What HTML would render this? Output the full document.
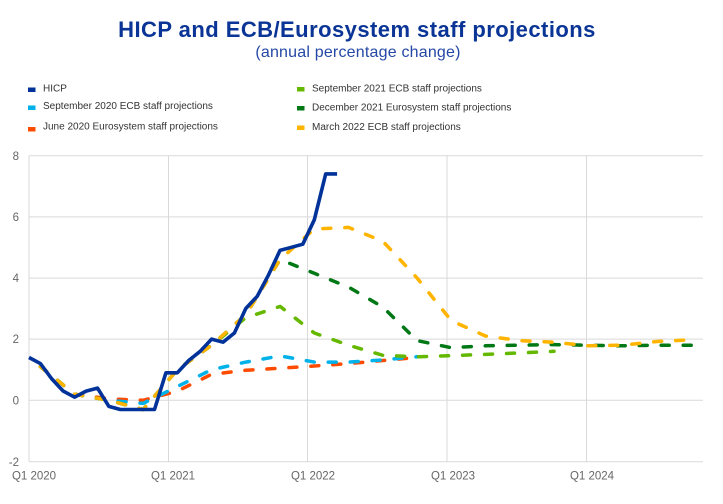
<!DOCTYPE html>
<html>
<head>
<meta charset="utf-8">
<style>
html,body{margin:0;padding:0;background:#fff;}
svg{display:block;}
text{font-family:"Liberation Sans",Arial,sans-serif;}
</style>
</head>
<body>
<svg width="723" height="504" viewBox="0 0 723 504" xmlns="http://www.w3.org/2000/svg">
<rect x="0" y="0" width="723" height="504" fill="#fff"/>
<!-- Title -->
<text x="357" y="37" text-anchor="middle" font-size="22" font-weight="bold" fill="#0a3596" letter-spacing="0.45">HICP and ECB/Eurosystem staff projections</text>
<text x="358" y="57" text-anchor="middle" font-size="16" fill="#2448a5" letter-spacing="0.2">(annual percentage change)</text>

<!-- Legend -->
<g font-size="10" fill="#333">
  <rect x="28" y="87.5" width="7.5" height="4.5" fill="#003299"/>
  <text x="43" y="91.5">HICP</text>
  <rect x="28" y="105.5" width="7.5" height="4.5" fill="#00b1ea"/>
  <text x="43" y="109">September 2020 ECB staff projections</text>
  <rect x="28" y="127" width="7.5" height="4.5" fill="#ff4b00"/>
  <text x="43" y="129.5">June 2020 Eurosystem staff projections</text>

  <rect x="297" y="87" width="7.5" height="4.5" fill="#65b800"/>
  <text x="312" y="91.5">September 2021 ECB staff projections</text>
  <rect x="297" y="106" width="7.5" height="4.5" fill="#007816"/>
  <text x="312" y="110.5">December 2021 Eurosystem staff projections</text>
  <rect x="297" y="125.5" width="7.5" height="4.5" fill="#ffb400"/>
  <text x="312" y="130">March 2022 ECB staff projections</text>
</g>

<!-- Gridlines -->
<g stroke="#d9d9d9" stroke-width="1" fill="none">
  <line x1="29" y1="155.7" x2="703" y2="155.7"/>
  <line x1="29" y1="216.9" x2="703" y2="216.9"/>
  <line x1="29" y1="278.1" x2="703" y2="278.1"/>
  <line x1="29" y1="339.1" x2="703" y2="339.1"/>
  <line x1="29" y1="400.3" x2="703" y2="400.3"/>
  <line x1="29" y1="461.7" x2="703" y2="461.7"/>
  <line x1="29" y1="155.7" x2="29" y2="461.7"/>
  <line x1="168.5" y1="155.7" x2="168.5" y2="461.7"/>
  <line x1="307.5" y1="155.7" x2="307.5" y2="461.7"/>
  <line x1="447" y1="155.7" x2="447" y2="461.7"/>
  <line x1="586.5" y1="155.7" x2="586.5" y2="461.7"/>
</g>

<!-- Y labels -->
<g font-size="11.5" fill="#666" text-anchor="end">
  <text x="19" y="160">8</text>
  <text x="19" y="221">6</text>
  <text x="19" y="282">4</text>
  <text x="19" y="343">2</text>
  <text x="19" y="404.5">0</text>
  <text x="19" y="466">-2</text>
</g>
<!-- X labels -->
<g font-size="11.5" fill="#666" text-anchor="middle">
  <text x="34" y="479.5">Q1 2020</text>
  <text x="173" y="479.5">Q1 2021</text>
  <text x="313" y="479.5">Q1 2022</text>
  <text x="453" y="479.5">Q1 2023</text>
  <text x="592" y="479.5">Q1 2024</text>
</g>

<!-- Series -->
<g fill="none" stroke-width="3.5" stroke-linecap="round" stroke-linejoin="round" stroke-dasharray="8 14">
  <!-- June 2020 -->
  <polyline stroke="#ff4b00" points="40.4,366.6 74.6,394.2 108.9,398.8 143.1,400.3 177.4,391.1 211.6,374.3 245.9,370.3 280.1,368.2 314.3,366.0 348.6,363.6 382.8,360.5 417.0,357.5"/>
  <!-- Sep 2020 -->
  <polyline stroke="#00b1ea" points="40.4,366.6 74.6,394.2 108.9,400.3 143.1,403.4 177.4,386.5 211.6,369.7 245.9,362.1 280.1,355.9 314.3,362.1 348.6,362.1 382.8,359.9 417.0,356.8"/>
  <!-- Sep 2021 -->
  <polyline stroke="#65b800" points="40.4,366.6 74.6,394.2 108.9,400.3 143.1,409.5 177.4,369.7 211.6,345.2 245.9,317.7 280.1,306.4 314.3,333.0 348.6,345.2 382.8,355.3 417.0,356.8 451.3,355.6 485.5,354.4 519.8,352.9 554.0,351.3"/>
  <!-- Dec 2021 -->
  <polyline stroke="#007816" points="40.4,366.6 74.6,394.2 108.9,400.3 143.1,409.5 177.4,369.7 211.6,345.2 245.9,314.6 280.1,259.5 314.3,273.3 348.6,287.1 382.8,307.0 417.0,340.6 451.3,347.7 485.5,345.8 519.8,345.2 554.0,344.6 588.3,345.2 622.5,345.8 656.8,345.2 693.0,345.2"/>
  <!-- Mar 2022 -->
  <polyline stroke="#ffb400" points="40.4,366.6 74.6,394.2 108.9,400.3 143.1,409.5 177.4,369.7 211.6,345.2 245.9,314.6 280.1,259.5 314.3,229.0 348.6,227.4 382.8,241.2 417.0,277.9 451.3,320.7 485.5,336.0 519.8,340.6 554.0,342.2 588.3,345.8 622.5,345.2 656.8,341.5 693.0,339.7"/>
</g>
<!-- HICP -->
<polyline fill="none" stroke="#003299" stroke-width="3.6" stroke-linejoin="round" stroke-linecap="butt" points="29.0,357.5 40.4,363.6 51.8,378.9 63.2,391.1 74.6,397.2 86.1,391.1 97.5,388.1 108.9,406.4 120.3,409.5 131.7,409.5 143.1,409.5 154.5,409.5 165.9,372.8 177.3,372.8 188.7,360.5 200.2,351.3 211.6,339.1 223.0,342.2 234.4,333.0 245.8,308.5 257.2,296.3 268.6,274.8 280.0,250.4 291.4,247.3 302.8,244.2 314.3,219.8 325.7,173.9 337.1,173.9"/>
</svg>
</body>
</html>
